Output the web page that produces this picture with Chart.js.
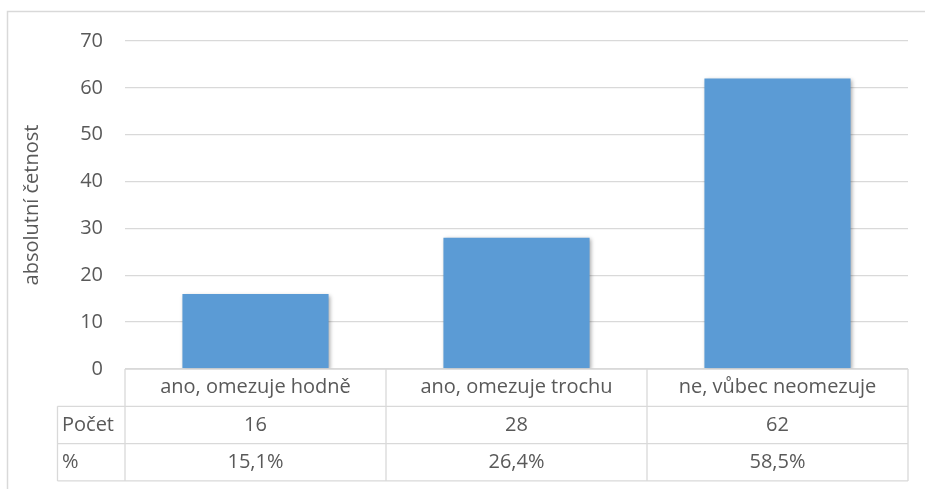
<!DOCTYPE html>
<html><head><meta charset="utf-8">
<script src="https://cdn.jsdelivr.net/npm/chart.js@4/dist/chart.umd.min.js"></script>
<style>html,body{margin:0;padding:0;background:#fff}#wrap{width:925px;height:489px;position:relative}</style>
</head><body><div id="wrap"><canvas id="c" width="925" height="489"></canvas></div>
<script>
const categories = ["ano, omezuje hodně", "ano, omezuje trochu", "ne, vůbec neomezuje"];
const counts = [16, 28, 62];
const percents = ["15,1%", "26,4%", "58,5%"];
const rowLabels = ["Počet", "%"];
const yTicks = {min: 0, max: 70, step: 10};
const yTitle = "absolutní četnost";

const FONT = "'Open Sans', sans-serif";
const FS = 20;
const TXT = "#595959";
const LINE = "#D9D9D9";

const tablePlugin = {
  id: 'tablePlugin',
  beforeDatasetsDraw(chart) {
    const ctx = chart.ctx;
    ctx.save();
    ctx.shadowColor = 'rgba(0,0,0,0.35)';
    ctx.shadowBlur = 4;
    ctx.shadowOffsetX = 1.5;
    ctx.shadowOffsetY = 1.5;
  },
  afterDatasetsDraw(chart) {
    chart.ctx.restore();
  },
  afterDraw(chart) {
    const ctx = chart.ctx;
    const a = chart.chartArea;
    const xs = chart.scales.x;
    ctx.save();
    // outer border
    ctx.strokeStyle = LINE; ctx.lineWidth = 1.5;
    ctx.beginPath();
    ctx.moveTo(7.5, 489); ctx.lineTo(7.5, 11.5); ctx.lineTo(925, 11.5);
    ctx.stroke();
    // table
    const rowH = 37.3;
    const top = a.bottom;
    const labelLeft = 57.5;
    const n = categories.length;
    const colW = (a.right - a.left) / n;
    ctx.lineWidth = 1.3;
    ctx.beginPath();
    ctx.moveTo(a.left, top); ctx.lineTo(a.right, top);
    for (let r = 1; r <= 3; r++) {
      const y = top + r * rowH;
      ctx.moveTo(labelLeft, y); ctx.lineTo(a.right, y);
    }
    ctx.moveTo(a.left, top); ctx.lineTo(a.left, top + 3 * rowH);
    for (let i = 1; i <= n; i++) {
      const x = a.left + i * colW;
      ctx.moveTo(x, top); ctx.lineTo(x, top + 3 * rowH);
    }
    ctx.moveTo(labelLeft, top + rowH); ctx.lineTo(labelLeft, top + 3 * rowH);
    ctx.stroke();
    // text
    ctx.fillStyle = TXT;
    ctx.font = FS + "px " + FONT;
    ctx.textBaseline = 'middle';
    ctx.textAlign = 'center';
    for (let i = 0; i < n; i++) {
      const cx = xs.getPixelForValue(i);
      ctx.fillText(categories[i], cx, top + rowH * 0.5);
      ctx.fillText(String(counts[i]), cx, top + rowH * 1.5);
      ctx.fillText(percents[i], cx, top + rowH * 2.5);
    }
    ctx.textAlign = 'left';
    ctx.fillText(rowLabels[0], 62, top + rowH * 1.5);
    ctx.fillText(rowLabels[1], 62, top + rowH * 2.5);
    ctx.restore();
  }
};

new Chart(document.getElementById('c'), {
  type: 'bar',
  data: {
    labels: categories,
    datasets: [{
      data: counts,
      backgroundColor: '#5B9BD5',
      borderWidth: 0,
      categoryPercentage: 1,
      barPercentage: 0.56
    }]
  },
  options: {
    responsive: false,
    animation: false,
    devicePixelRatio: 1,
    layout: {padding: {left: 0, top: 41, right: 17, bottom: 120}},
    plugins: {legend: {display: false}, tooltip: {enabled: false}},
    scales: {
      x: {display: false},
      y: {
        min: yTicks.min, max: yTicks.max,
        ticks: {stepSize: yTicks.step, color: TXT, font: {family: FONT, size: FS}, padding: 22},
        grid: {color: LINE, lineWidth: 1.3, drawTicks: false},
        border: {display: false},
        title: {display: true, text: yTitle, color: TXT, font: {family: FONT, size: FS}, padding: {top: 20, bottom: 0}},
        afterFit(scale) { scale.width = 125; }
      }
    }
  },
  plugins: [tablePlugin]
});
</script>
</body></html>
